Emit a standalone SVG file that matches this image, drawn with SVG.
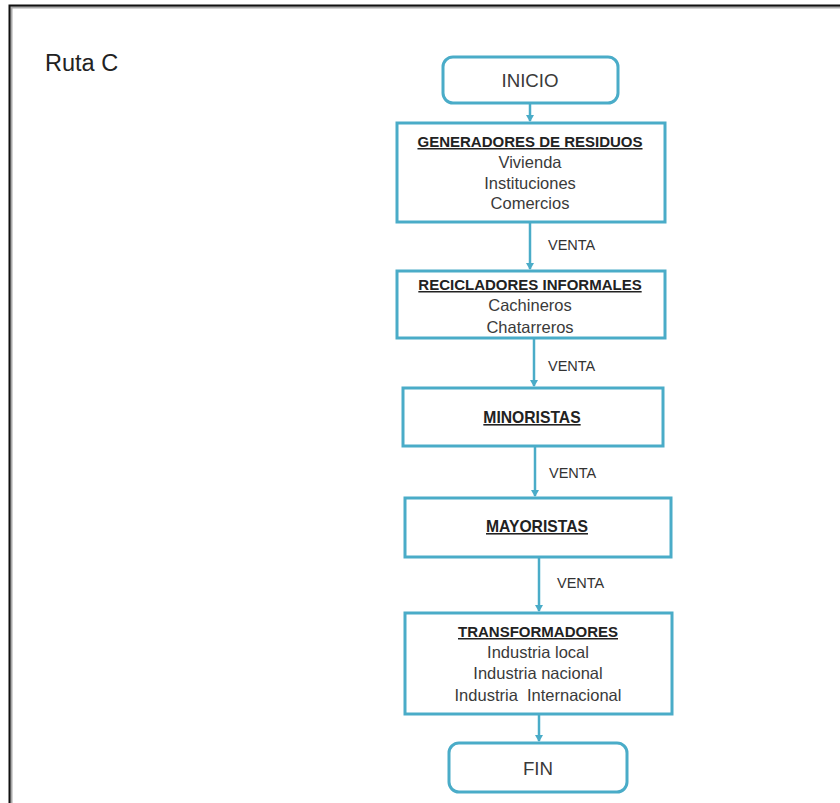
<svg xmlns="http://www.w3.org/2000/svg" width="840" height="803" viewBox="0 0 840 803">
<style>
.box{fill:#fff;stroke:#4aacc8;stroke-width:3}
.t{font-family:"Liberation Sans",Arial,sans-serif;font-size:16.5px;fill:#3a3a3a;text-anchor:middle}
.h{font-weight:bold;text-decoration:underline;fill:#222;font-size:15px}
.h2{font-size:15.7px}
.se{font-size:18.7px}
.lbl{font-family:"Liberation Sans",Arial,sans-serif;font-size:14.5px;fill:#333}
.conn line{stroke:#4aacc8;stroke-width:2.5}
</style>
<defs>
<marker id="ar" markerWidth="8" markerHeight="8" refX="6" refY="4" orient="auto" markerUnits="userSpaceOnUse">
<path d="M0,0 L7,4 L0,8 z" fill="#4aacc8"/>
</marker>
</defs>
<rect width="840" height="803" fill="#fff"/>
<path d="M11,803 V7 H840" fill="none" stroke="#aaa" stroke-width="3"/>
<path d="M9.5,803 V5.5 H840" fill="none" stroke="#111" stroke-width="2"/>
<text x="45" y="71" font-family="Liberation Sans, Arial, sans-serif" font-size="23.5" fill="#222">Ruta C</text>
<g id="connectors" class="conn">
<line x1="530" y1="104" x2="530" y2="121" marker-end="url(#ar)"/>
<line x1="530" y1="223" x2="530" y2="269" marker-end="url(#ar)"/>
<line x1="534" y1="339" x2="534" y2="386" marker-end="url(#ar)"/>
<line x1="535" y1="447" x2="535" y2="496" marker-end="url(#ar)"/>
<line x1="539" y1="558" x2="539" y2="611" marker-end="url(#ar)"/>
<line x1="539" y1="715" x2="539" y2="741" marker-end="url(#ar)"/>
<text class="lbl" x="548" y="250">VENTA</text>
<text class="lbl" x="548" y="371">VENTA</text>
<text class="lbl" x="549" y="478">VENTA</text>
<text class="lbl" x="557" y="588">VENTA</text>
</g>
<g id="inicio">
<rect class="box" x="443" y="57" width="175" height="46" rx="10"/>
<text class="t se" x="530" y="87">INICIO</text>
</g>
<g id="generadores">
<rect class="box" x="397" y="123" width="268" height="99"/>
<text class="t h" x="530" y="147">GENERADORES DE RESIDUOS</text>
<text class="t" x="530" y="168">Vivienda</text>
<text class="t" x="530" y="189">Instituciones</text>
<text class="t" x="530" y="209">Comercios</text>
</g>
<g id="recicladores">
<rect class="box" x="397" y="271" width="268" height="67"/>
<text class="t h" x="530" y="290">RECICLADORES INFORMALES</text>
<text class="t" x="530" y="311">Cachineros</text>
<text class="t" x="530" y="333">Chatarreros</text>
</g>
<g id="minoristas">
<rect class="box" x="403" y="388" width="260" height="58"/>
<text class="t h h2" x="532" y="423">MINORISTAS</text>
</g>
<g id="mayoristas">
<rect class="box" x="405" y="498" width="266" height="59"/>
<text class="t h h2" x="537" y="532">MAYORISTAS</text>
</g>
<g id="transformadores">
<rect class="box" x="405" y="613" width="267" height="101"/>
<text class="t h" x="538" y="637">TRANSFORMADORES</text>
<text class="t" x="538" y="658">Industria local</text>
<text class="t" x="538" y="679">Industria nacional</text>
<text class="t" x="538" y="701" xml:space="preserve">Industria  Internacional</text>
</g>
<g id="fin">
<rect class="box" x="449" y="743" width="178" height="49" rx="10"/>
<text class="t se" x="538" y="775">FIN</text>
</g>
</svg>
